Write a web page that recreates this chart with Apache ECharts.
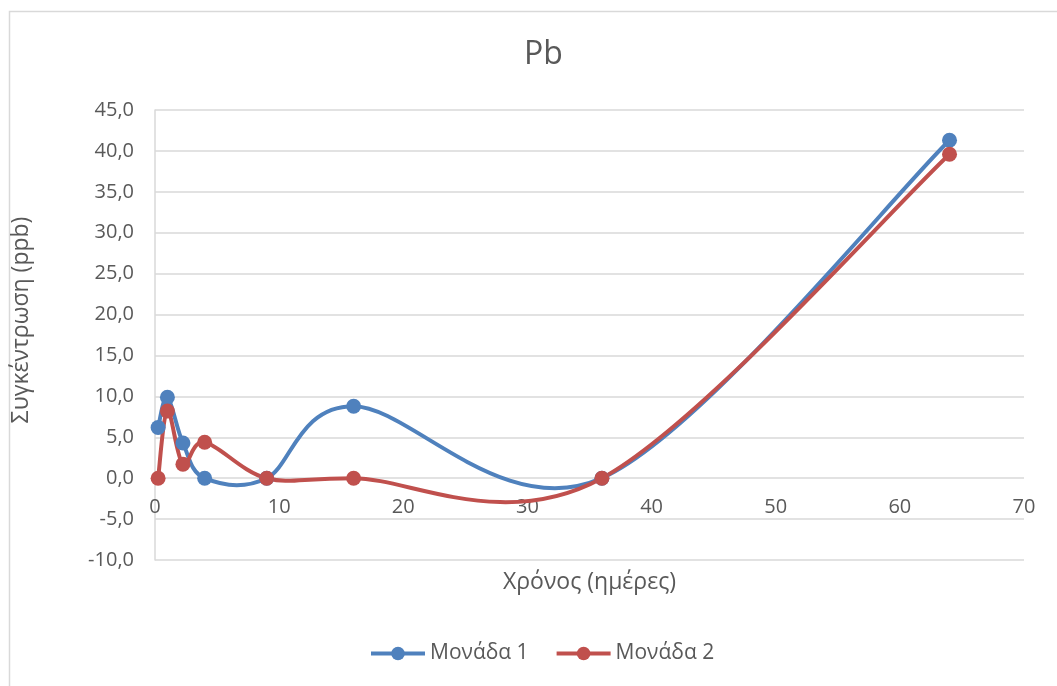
<!DOCTYPE html>
<html>
<head>
<meta charset="utf-8">
<script src="https://cdn.jsdelivr.net/npm/echarts@6/dist/echarts.min.js"></script>
<style>
  html, body { margin: 0; padding: 0; background: #fff; }
  #chart { width: 1057px; height: 686px; }
</style>
</head>
<body>
<div id="chart"></div>
<script>
// sampling days
const days = [0.25, 1, 2.25, 4, 9, 16, 36, 64]
const monada1 = [6.2, 9.9, 4.3, 0.0, 0.0, 8.8, 0.0, 41.3]
const monada2 = [0.0, 8.2, 1.7, 4.4, 0.0, 0.0, 0.0, 39.6]
const seriesNames = ['Μονάδα 1', 'Μονάδα 2']
const colors = ['#4f81bd', '#c0504d']

const font = '"Open Sans", "Liberation Sans", sans-serif'
const textColor = '#595959'
const gridColor = '#d9d9d9'

const toPairs = (xs, ys) => xs.map((x, i) => [x, ys[i]])

// excel-like smoothed line: catmull-rom segments as bezier curves
function smoothCurve(name, ys, color) {
    const pts = toPairs(days, ys)
    return {
        name: name,
        type: 'custom',
        z: 2,
        silent: true,
        data: pts,
        encode: { x: 0, y: 1 },
        renderItem: (params, api) => {
            const i = params.dataIndex
            if (i >= pts.length - 1) return null
            const p = k => api.coord(pts[Math.max(0, Math.min(pts.length - 1, k))])
            const p0 = p(i - 1), p1 = p(i), p2 = p(i + 1), p3 = p(i + 2)
            return {
                type: 'bezierCurve',
                shape: {
                    x1: p1[0], y1: p1[1],
                    x2: p2[0], y2: p2[1],
                    cpx1: p1[0] + (p2[0] - p0[0]) / 6,
                    cpy1: p1[1] + (p2[1] - p0[1]) / 6,
                    cpx2: p2[0] - (p3[0] - p1[0]) / 6,
                    cpy2: p2[1] - (p3[1] - p1[1]) / 6
                },
                style: { fill: null, stroke: color, lineWidth: 4, lineCap: 'round' }
            }
        }
    }
}

function markers(name, ys, color) {
    return {
        name: name,
        type: 'line',
        z: 3,
        data: toPairs(days, ys),
        symbol: 'circle',
        symbolSize: 15,
        lineStyle: { width: 4, color: color, opacity: 0 },
        itemStyle: { color: color }
    }
}

const chart = echarts.init(document.getElementById('chart'))
const option = {
    animation: false,
    textStyle: { fontFamily: font },
    graphic: [{
        type: 'rect',
        shape: { x: 9.5, y: 11.5, width: 1100, height: 700 },
        style: { fill: 'none', stroke: gridColor, lineWidth: 1.5 },
        silent: true
    }],
    title: {
        text: 'Pb',
        left: 519,
        top: 34,
        textStyle: { fontFamily: font, fontSize: 32, fontWeight: 'normal', color: textColor }
    },
    legend: {
        bottom: 17,
        left: 364,
        itemWidth: 54,
        itemHeight: 17,
        itemGap: 26,
        lineStyle: { opacity: 1, width: 4 },
        textStyle: { fontFamily: font, fontSize: 21, color: textColor },
        data: seriesNames
    },
    grid: { left: 155, right: 33, top: 110, bottom: 126 },
    xAxis: {
        type: 'value',
        min: 0,
        max: 70,
        interval: 10,
        name: 'Χρόνος (ημέρες)',
        nameLocation: 'middle',
        nameGap: 11,
        nameTextStyle: { fontFamily: font, fontSize: 23, color: textColor },
        axisLine: { show: false },
        axisTick: { show: false },
        axisLabel: { margin: -63, fontSize: 20, color: textColor, fontFamily: font },
        splitLine: { show: false }
    },
    yAxis: {
        type: 'value',
        min: -10,
        max: 45,
        interval: 5,
        name: 'Συγκέντρωση (ppb)',
        nameLocation: 'middle',
        nameGap: 122,
        nameTextStyle: { fontFamily: font, fontSize: 23, color: textColor, padding: [0, 0, 0, 30] },
        axisLine: { show: true, lineStyle: { color: gridColor, width: 1.5 } },
        axisTick: { show: false },
        axisLabel: {
            margin: 21,
            fontSize: 20,
            color: textColor,
            fontFamily: font,
            formatter: v => v.toFixed(1).replace('.', ',')
        },
        splitLine: { lineStyle: { color: gridColor, width: 1.5 } }
    },
    series: [
        markers(seriesNames[0], monada1, colors[0]),
        markers(seriesNames[1], monada2, colors[1]),
        smoothCurve(seriesNames[0], monada1, colors[0]),
        smoothCurve(seriesNames[1], monada2, colors[1])
    ]
}
chart.setOption(option)
</script>
</body>
</html>
